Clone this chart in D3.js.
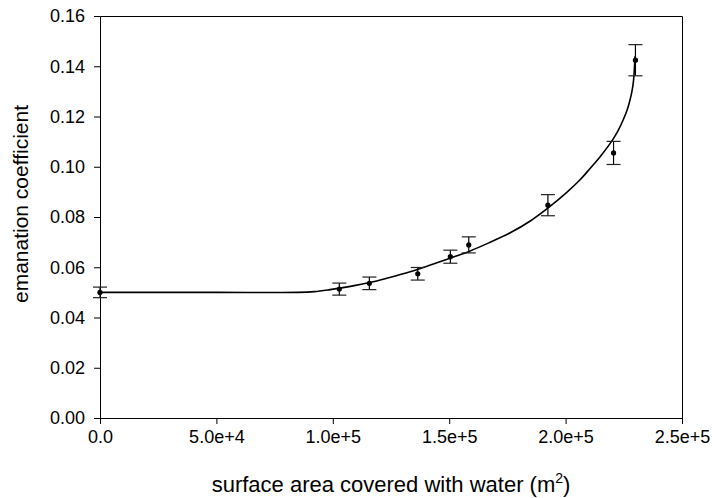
<!DOCTYPE html>
<html>
<head>
<meta charset="utf-8">
<script src="https://cdn.jsdelivr.net/npm/d3@7"></script>
<style>
  body { margin: 0; background: #fff; }
  text { font-family: "Liberation Sans", Arial, sans-serif; fill: #000; }
</style>
</head>
<body>
<svg id="graph"></svg>
<script>
// measured points (x = area in m2, y = emanation coefficient, err = +/- error)
var areas  = [0, 102800, 115700, 136500, 150500, 158400, 192400, 220600, 230000];
var coeffs = [0.0500, 0.0513, 0.0536, 0.0574, 0.0642, 0.0689, 0.0847, 0.1055, 0.1424];
var errs   = [0.0021, 0.0024, 0.0025, 0.0025, 0.0026, 0.0032, 0.0042, 0.0046, 0.0062];

// fitted curve
var fitX = [0, 50000, 85000, 92000, 98800, 107000, 116000, 124000, 133200, 141000, 150400, 159000, 167000, 176200, 185000, 193300, 200500, 206000, 210500, 215000, 219900, 222500, 224900, 226500, 227500, 228500, 229200, 229800];
var fitY = [0.0500, 0.0500, 0.0500, 0.0503, 0.0511, 0.0523, 0.0539, 0.0558, 0.0582, 0.0606, 0.0636, 0.0665, 0.0697, 0.0737, 0.0785, 0.0842, 0.0898, 0.0946, 0.0993, 0.1042, 0.1103, 0.1143, 0.1190, 0.1228, 0.1260, 0.1300, 0.1345, 0.1440];

var xTicks = [0, 50000, 100000, 150000, 200000, 250000];
var xTickLabels = ["0.0", "5.0e+4", "1.0e+5", "1.5e+5", "2.0e+5", "2.5e+5"];
var yTicks = [0, 0.02, 0.04, 0.06, 0.08, 0.10, 0.12, 0.14, 0.16];

var svg = d3.select("#graph")
    .attr("width", 712)
    .attr("height", 498);

var margin = {top: 16, right: 30, bottom: 80, left: 100},
    width = +svg.attr("width") - margin.left - margin.right,
    height = +svg.attr("height") - margin.top - margin.bottom;

var x = d3.scaleLinear().domain([0, 250000]).range([0, width]),
    y = d3.scaleLinear().domain([0, 0.16]).range([height, 0]);

var g = svg.append("g")
    .attr("transform", "translate(" + margin.left + "," + margin.top + ")");

// frame top + right
g.append("path")
    .attr("d", "M0.5,0.5H" + (width + 0.5) + "V" + (height + 0.5))
    .attr("fill", "none")
    .attr("stroke", "#000")
    .attr("stroke-width", 1);

var xaxis = g.append("g")
    .attr("transform", "translate(0," + height + ")")
    .call(d3.axisBottom(x)
        .tickValues(xTicks)
        .tickFormat(function(d, i) { return xTickLabels[i]; })
        .tickSizeOuter(0)
        .tickSize(6)
        .tickPadding(6));

var yaxis = g.append("g")
    .call(d3.axisLeft(y)
        .tickValues(yTicks)
        .tickFormat(d3.format(".2f"))
        .tickSizeOuter(0)
        .tickSize(6)
        .tickPadding(9));

g.selectAll(".domain").attr("stroke", "#000");
g.selectAll(".tick line").attr("stroke", "#000");
g.selectAll(".tick text")
    .attr("font-size", 18)
    .attr("font-family", "Liberation Sans, Arial, sans-serif")
    .attr("fill", "#000");

// fitted line
var line = d3.line()
    .x(function(d) { return x(d[0]); })
    .y(function(d) { return y(d[1]); })
    .curve(d3.curveCatmullRom.alpha(0.5));

g.append("path")
    .datum(d3.zip(fitX, fitY))
    .attr("fill", "none")
    .attr("stroke", "#000")
    .attr("stroke-width", 1.6)
    .attr("d", line);

// error bars
var pts = d3.range(areas.length).map(function(i) {
    return {a: areas[i], c: coeffs[i], e: errs[i]};
});

var eb = g.selectAll(".err")
  .data(pts)
  .enter().append("g")
    .attr("class", "err");

eb.append("line")
    .attr("x1", function(d) { return x(d.a); })
    .attr("x2", function(d) { return x(d.a); })
    .attr("y1", function(d) { return y(d.c - d.e); })
    .attr("y2", function(d) { return y(d.c + d.e); })
    .attr("stroke", "#000")
    .attr("stroke-width", 1.2);

[-1, 1].forEach(function(s) {
    eb.append("line")
        .attr("x1", function(d) { return x(d.a) - 7; })
        .attr("x2", function(d) { return x(d.a) + 7; })
        .attr("y1", function(d) { return y(d.c + s * d.e); })
        .attr("y2", function(d) { return y(d.c + s * d.e); })
        .attr("stroke", "#222")
        .attr("stroke-width", 1.2);
});

eb.append("circle")
    .attr("cx", function(d) { return x(d.a); })
    .attr("cy", function(d) { return y(d.c); })
    .attr("r", 2.6)
    .attr("fill", "#000");

// axis titles
var xt = svg.append("text")
    .attr("x", margin.left + width / 2)
    .attr("y", 492)
    .attr("text-anchor", "middle")
    .attr("font-size", 22);
xt.append("tspan").text("surface area covered with water (m");
xt.append("tspan").attr("font-size", 14).attr("dy", -9).text("2");
xt.append("tspan").attr("dy", 9).text(")");

svg.append("text")
    .attr("transform", "translate(28,204) rotate(-90)")
    .attr("text-anchor", "middle")
    .attr("font-size", 21)
    .text("emanation coefficient");
</script>
</body>
</html>
